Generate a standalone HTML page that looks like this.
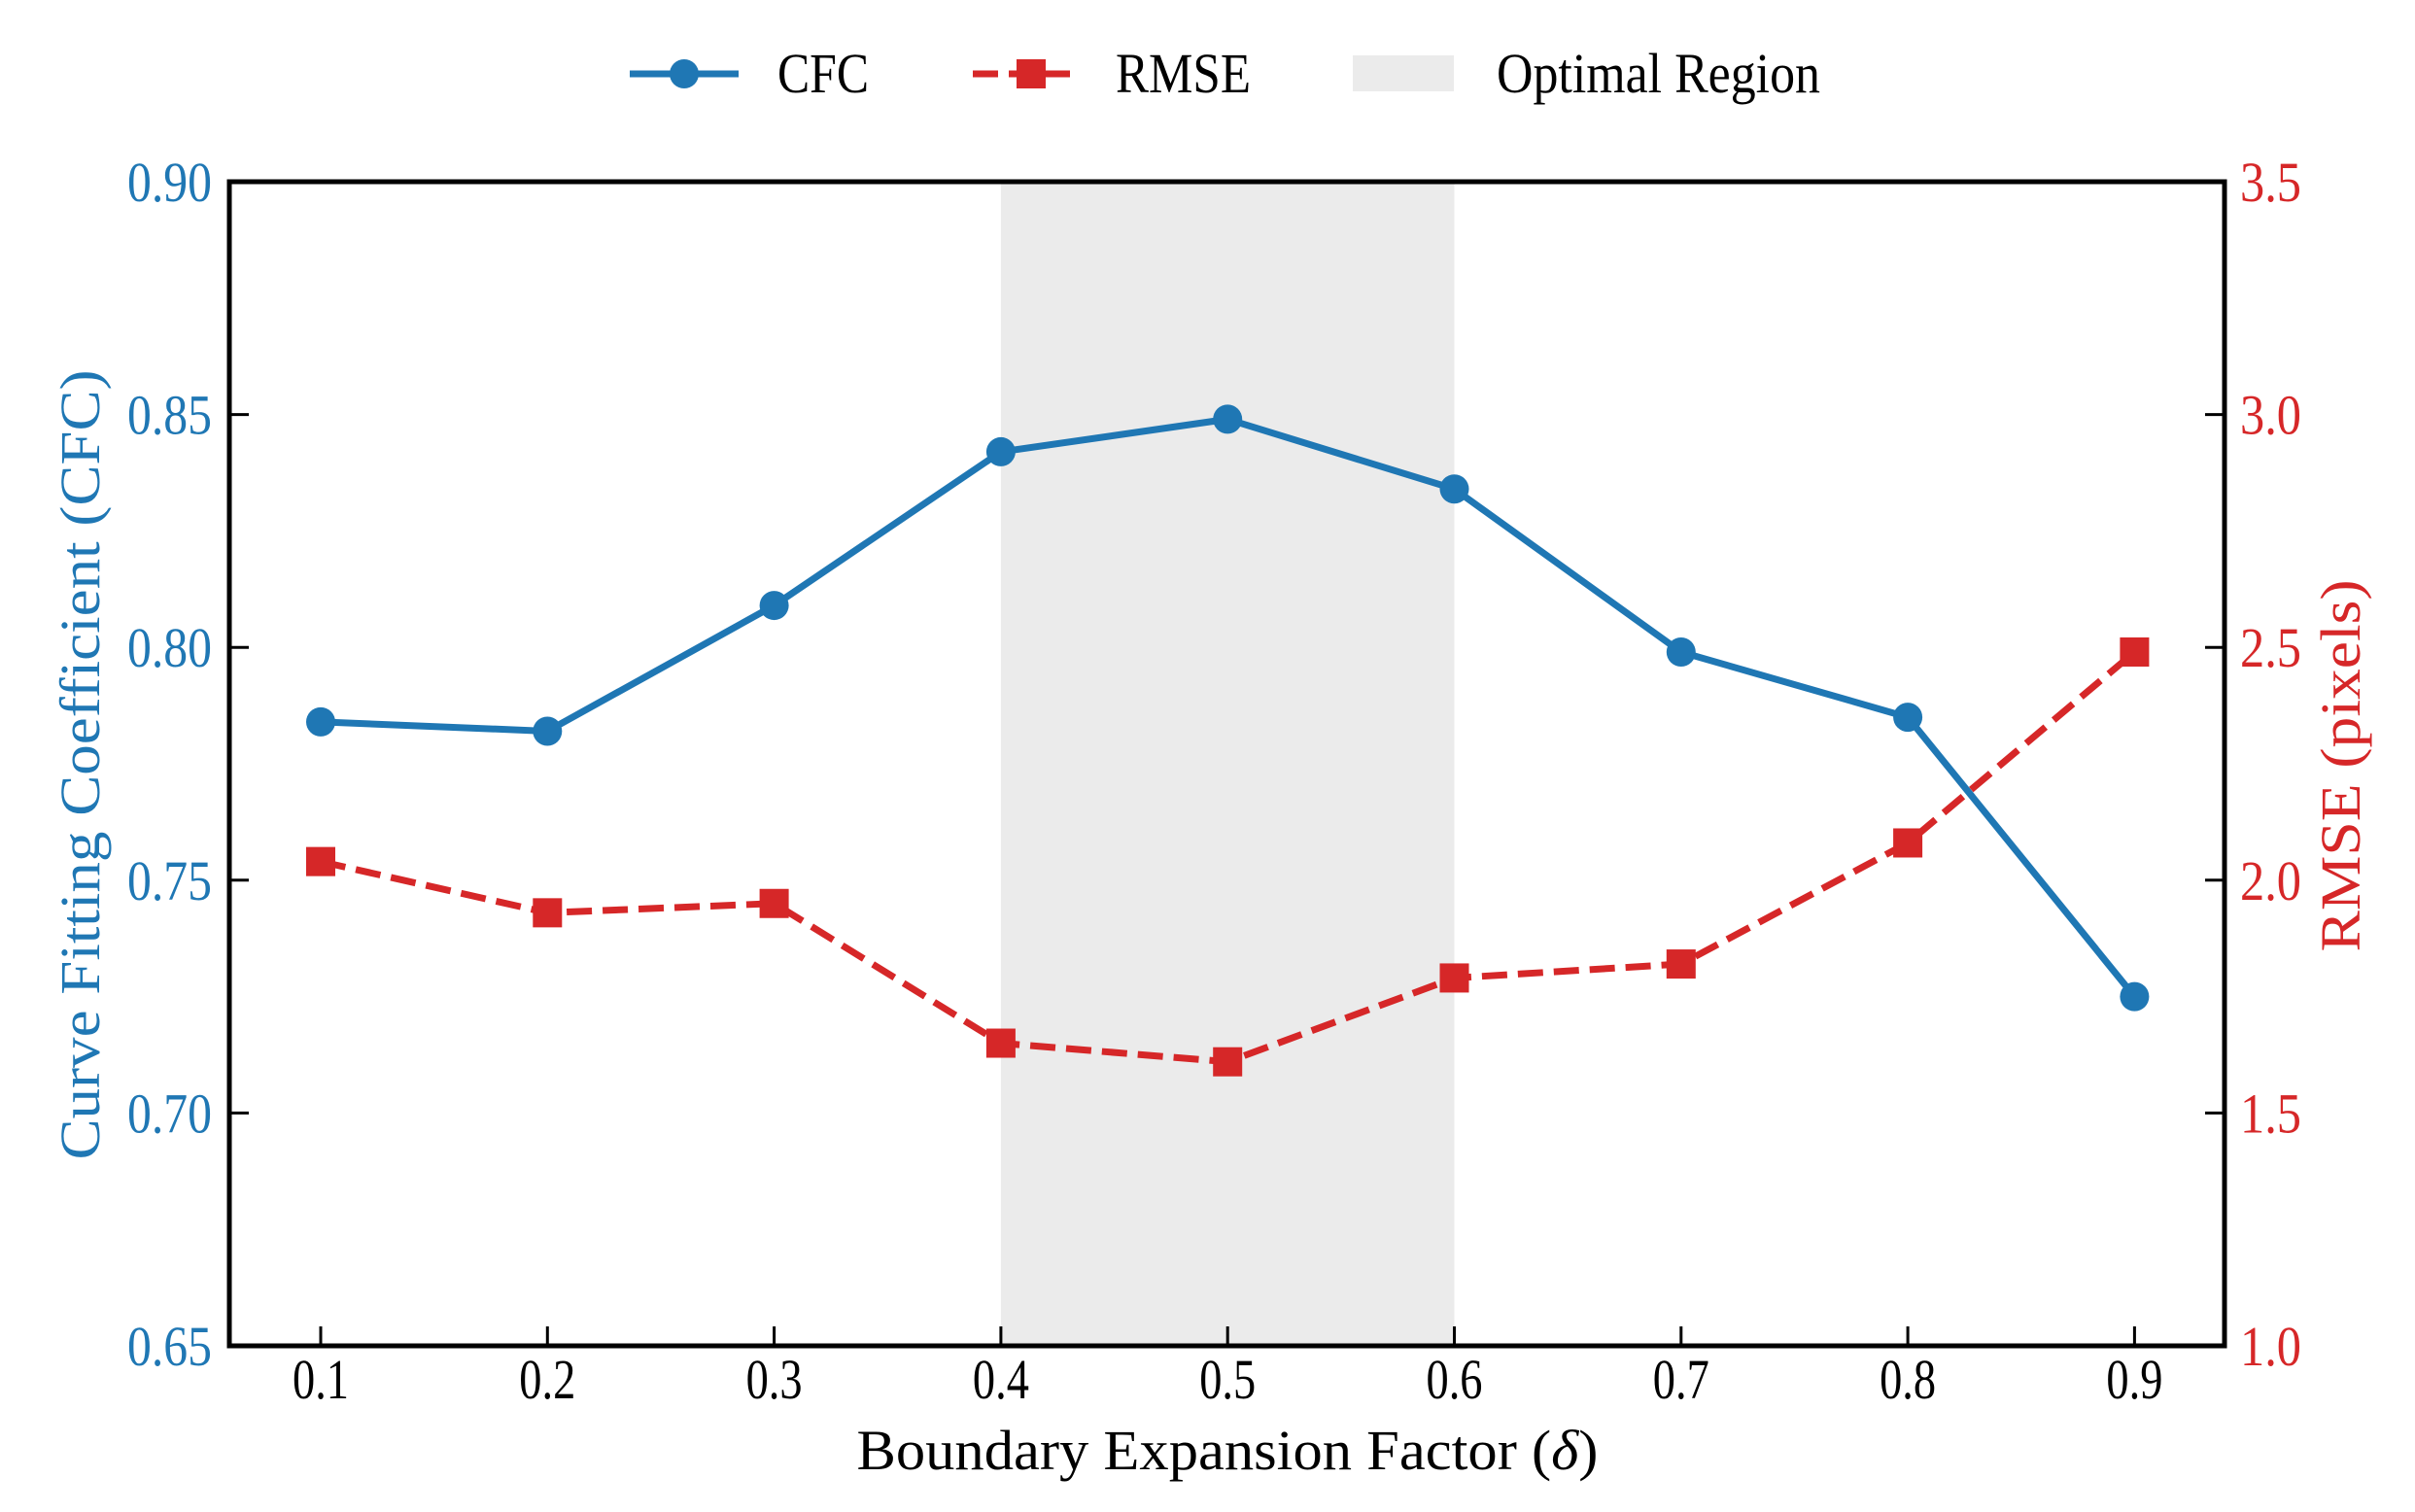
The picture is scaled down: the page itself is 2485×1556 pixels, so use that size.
<!DOCTYPE html>
<html><head><meta charset="utf-8"><style>
html,body{margin:0;padding:0;background:#fff;}
svg{display:block;font-family:"Liberation Serif","DejaVu Serif",serif;}
</style></head><body>
<svg id="chart" width="2485" height="1556" viewBox="0 0 2485 1556" xmlns="http://www.w3.org/2000/svg"></svg>
<script>
const categories = [0.1,0.2,0.3,0.4,0.5,0.6,0.7,0.8,0.9];
const xTickLabels = ["0.1","0.2","0.3","0.4","0.5","0.6","0.7","0.8","0.9"];
const cfcValues = [0.784,0.782,0.809,0.842,0.849,0.834,0.799,0.785,0.725];
const rmseValues = [2.04,1.93,1.95,1.65,1.61,1.79,1.82,2.08,2.49];
const leftTicks = [0.65,0.70,0.75,0.80,0.85,0.90];
const leftTickLabels = ["0.65","0.70","0.75","0.80","0.85","0.90"];
const rightTicks = [1.0,1.5,2.0,2.5,3.0,3.5];
const rightTickLabels = ["1.0","1.5","2.0","2.5","3.0","3.5"];
const optimalRange = [0.4,0.6];

const NS="http://www.w3.org/2000/svg";
const svg=document.getElementById('chart');
const L=236,R=2289,T=187,B=1385;
const BLUE="#1f77b4",RED="#d62728";
function x(v){return 330+(v-0.1)/0.1*233.3;}
function yL(v){return B-(v-0.65)/0.25*(B-T);}
function yR(v){return B-(v-1.0)/2.5*(B-T);}
function mk(tag,attrs,parent){const e=document.createElementNS(NS,tag);for(const k in attrs)e.setAttribute(k,attrs[k]);(parent||svg).appendChild(e);return e;}

const shade=mk('rect',{x:x(optimalRange[0]),y:T,width:x(optimalRange[1])-x(optimalRange[0]),height:B-T,fill:'#ebebeb'});



categories.forEach((c,i)=>{
  const t=mk('line',{x1:x(c),x2:x(c),y1:B,y2:B-20,stroke:'#000','stroke-width':3});
  
  
  const lb=mk('text',{x:x(c),y:1439,'text-anchor':'middle','font-size':58,textLength:58,lengthAdjust:'spacingAndGlyphs',fill:'#000'});
  lb.textContent=xTickLabels[i];
  
  
});
leftTicks.forEach((v,i)=>{
  const t=mk('line',{x1:L,x2:L+20,y1:yL(v),y2:yL(v),stroke:'#000','stroke-width':3});
  
  
  const lb=mk('text',{x:218,y:yL(v)+20,'text-anchor':'end','font-size':58,textLength:87,lengthAdjust:'spacingAndGlyphs',fill:BLUE});
  lb.textContent=leftTickLabels[i];
  
  
});
rightTicks.forEach((v,i)=>{
  const t=mk('line',{x1:R,x2:R-20,y1:yR(v),y2:yR(v),stroke:'#000','stroke-width':3});
  
  
  const lb=mk('text',{x:2305,y:yR(v)+20,'text-anchor':'start','font-size':58,textLength:63,lengthAdjust:'spacingAndGlyphs',fill:RED});
  lb.textContent=rightTickLabels[i];
  
  
});

const rl=mk('polyline',{points:categories.map((c,i)=>x(c)+','+yR(rmseValues[i])).join(' '),fill:'none',stroke:RED,'stroke-width':7,'stroke-dasharray':'26,11'});


categories.forEach((c,i)=>{
  const s=mk('rect',{x:x(c)-15,y:yR(rmseValues[i])-15,width:30,height:30,fill:RED});
  
  
});
const cl=mk('polyline',{points:categories.map((c,i)=>x(c)+','+yL(cfcValues[i])).join(' '),fill:'none',stroke:BLUE,'stroke-width':7,'stroke-linejoin':'round'});


categories.forEach((c,i)=>{
  const m=mk('circle',{cx:x(c),cy:yL(cfcValues[i]),r:15,fill:BLUE});
  
  
});

const fr=mk('rect',{x:L,y:T,width:R-L,height:B-T,fill:'none',stroke:'#000','stroke-width':5});



const xt=mk('text',{x:1263,y:1512,'text-anchor':'middle','font-size':58,textLength:763,lengthAdjust:'spacingAndGlyphs',fill:'#000'});
xt.innerHTML='Boundary Expansion Factor (<tspan font-style="italic">δ</tspan>)';


const ylt=mk('text',{x:0,y:0,'text-anchor':'middle','font-size':58,textLength:813,lengthAdjust:'spacingAndGlyphs',fill:BLUE,transform:'translate(102,787) rotate(-90)'});
ylt.textContent='Curve Fitting Coefficient (CFC)';


const yrt=mk('text',{x:0,y:0,'text-anchor':'middle','font-size':58,textLength:383,lengthAdjust:'spacingAndGlyphs',fill:RED,transform:'translate(2428,788) rotate(-90)'});
yrt.textContent='RMSE (pixels)';



const lg=mk('g',{});


const l1=mk('g',{},lg);


mk('line',{x1:648,x2:760,y1:76,y2:76,stroke:BLUE,'stroke-width':7},l1);
mk('circle',{cx:704,cy:76,r:15,fill:BLUE},l1);
const t1=mk('text',{x:800,y:95,'font-size':58,textLength:94,lengthAdjust:'spacingAndGlyphs'},l1);t1.textContent='CFC';
const l2=mk('g',{},lg);


mk('line',{x1:1001,x2:1104,y1:76,y2:76,stroke:RED,'stroke-width':7,'stroke-dasharray':'26,11'},l2);
mk('rect',{x:1046,y:61,width:30,height:30,fill:RED},l2);
const t2=mk('text',{x:1148,y:95,'font-size':58,textLength:139,lengthAdjust:'spacingAndGlyphs'},l2);t2.textContent='RMSE';
const l3=mk('g',{},lg);


mk('rect',{x:1392,y:57,width:104,height:37,fill:'#ebebeb'},l3);
const t3=mk('text',{x:1540,y:95,'font-size':58,textLength:333,lengthAdjust:'spacingAndGlyphs'},l3);t3.textContent='Optimal Region';
</script>
</body></html>
